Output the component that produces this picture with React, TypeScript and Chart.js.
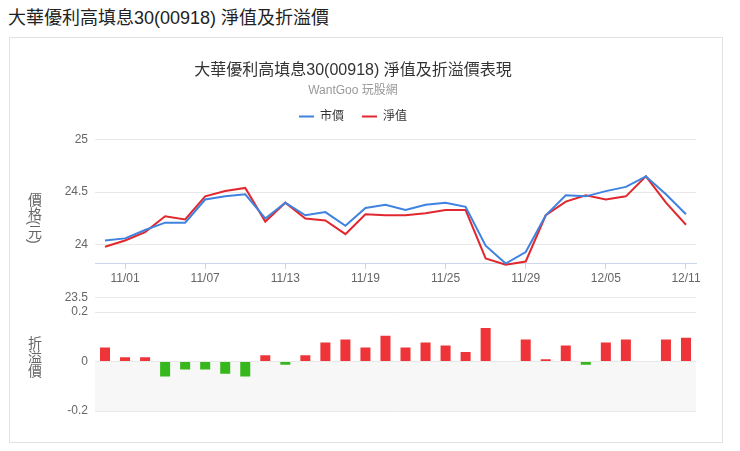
import { useEffect, useRef } from 'react';
import { Chart, registerables } from 'chart.js';

Chart.register(...registerables);

const FONT = "'Liberation Sans', 'Noto Sans CJK TC', sans-serif";

// trading days, 10/31 - 12/11
const dates = [
  '10/31', '11/01', '11/04', '11/05', '11/06', '11/07', '11/08', '11/11', '11/12', '11/13',
  '11/14', '11/15', '11/18', '11/19', '11/20', '11/21', '11/22', '11/25', '11/26', '11/27',
  '11/28', '11/29', '12/02', '12/03', '12/04', '12/05', '12/06', '12/09', '12/10', '12/11',
];

// 市價
const marketPrice = [
  24.04, 24.06, 24.14, 24.21, 24.21, 24.43, 24.46, 24.48, 24.25, 24.4,
  24.28, 24.31, 24.18, 24.35, 24.38, 24.33, 24.38, 24.4, 24.36, 23.99,
  23.82, 23.93, 24.28, 24.47, 24.46, 24.51, 24.55, 24.65, 24.48, 24.29,
];

// 淨值
const navPrice = [
  23.98, 24.04, 24.12, 24.27, 24.24, 24.46, 24.51, 24.54, 24.22, 24.4,
  24.25, 24.23, 24.1, 24.29, 24.28, 24.28, 24.3, 24.33, 24.33, 23.87,
  23.81, 23.84, 24.28, 24.41, 24.47, 24.43, 24.46, 24.65, 24.4, 24.19,
];

// 折溢價
const premium = [
  0.057, 0.017, 0.017, -0.06, -0.032, -0.032, -0.049, -0.06, 0.025, -0.013,
  0.025, 0.077, 0.089, 0.057, 0.104, 0.057, 0.077, 0.065, 0.039, 0.136,
  0, 0.089, 0.009, 0.065, -0.013, 0.077, 0.089, 0, 0.089, 0.096,
];

const xTickLabels = ['11/01', '11/07', '11/13', '11/19', '11/25', '11/29', '12/05', '12/11'];
const priceTicks = [23.5, 24, 24.5, 25];
const premiumTicks = [-0.2, 0, 0.2];

const BLUE = '#3f82e0';
const RED = '#e0282e';
const BAR_RED = '#ee3438';
const BAR_GREEN = '#36b81c';
const GRID = '#e8e8e8';

// light band below zero on the premium axis
const bandPlugin = {
  id: 'negativeBand',
  beforeDraw(chart: any) {
    const { ctx, chartArea, scales } = chart;
    const s = scales.y2;
    const top = s.getPixelForValue(0);
    const bottom = s.getPixelForValue(premiumTicks[0]);
    ctx.save();
    ctx.fillStyle = '#f7f7f7';
    ctx.fillRect(chartArea.left, top, chartArea.right - chartArea.left, bottom - top);
    ctx.restore();
  },
};

// a bit of room under the legend
const legendGap = {
  id: 'legendGap',
  beforeInit(chart: any) {
    const legend = chart.legend;
    if (!legend) return;
    const fit = legend.fit;
    legend.fit = function () {
      fit.call(this);
      this.height += 7;
    };
  },
};

const axisTitle = (top: number): any => ({
  position: 'absolute',
  left: 17,
  top,
  transform: 'translateY(-50%)',
  writingMode: 'vertical-rl',
  fontSize: 14,
  lineHeight: '14px',
  color: '#666',
});

export default function App() {
  const canvasRef = useRef<HTMLCanvasElement | null>(null);

  useEffect(() => {
    if (!canvasRef.current) return;

    const tickFont = { family: FONT, size: 12 };
    const plainNumber = (v: any) => String(Math.round(Number(v) * 100) / 100);

    const chart = new Chart(canvasRef.current, {
      type: 'bar',
      data: {
        labels: dates,
        datasets: [
          {
            type: 'line',
            label: '市價',
            data: marketPrice,
            yAxisID: 'y',
            borderColor: BLUE,
            backgroundColor: BLUE,
            borderWidth: 2,
            pointRadius: 0,
            tension: 0,
          },
          {
            type: 'line',
            label: '淨值',
            data: navPrice,
            yAxisID: 'y',
            borderColor: RED,
            backgroundColor: RED,
            borderWidth: 2,
            pointRadius: 0,
            tension: 0,
          },
          {
            type: 'bar',
            label: '折溢價',
            data: premium,
            yAxisID: 'y2',
            backgroundColor: premium.map((v) => (v < 0 ? BAR_GREEN : BAR_RED)),
            borderWidth: 0,
            categoryPercentage: 1,
            barPercentage: 0.5,
          },
        ],
      } as any,
      options: {
        animation: false,
        responsive: true,
        maintainAspectRatio: false,
        layout: { padding: { left: 0, right: 26, top: 0, bottom: 31 } },
        plugins: {
          title: {
            display: true,
            text: '大華優利高填息30(00918) 淨值及折溢價表現',
            color: '#333',
            font: { family: FONT, size: 16, weight: 'normal' },
            padding: { top: 23, bottom: 0 },
          },
          subtitle: {
            display: true,
            text: 'WantGoo 玩股網',
            color: '#999',
            font: { family: FONT, size: 12 },
            padding: { top: 3, bottom: -5 },
          },
          legend: {
            labels: {
              usePointStyle: true,
              pointStyle: 'line',
              pointStyleWidth: 15,
              boxHeight: 12,
              padding: 18,
              color: '#333',
              font: { family: FONT, size: 12 },
              filter: (item: any) => item.datasetIndex < 2,
            },
          },
          tooltip: { enabled: false },
        },
        scales: {
          x: {
            type: 'category',
            offset: true,
            position: { y: 23.82 },
            grid: {
              offset: false,
              drawOnChartArea: false,
              drawTicks: true,
              tickLength: 5,
              color: '#ccd6eb',
            },
            border: { display: true, color: '#ccd6eb' },
            ticks: {
              autoSkip: false,
              maxRotation: 0,
              padding: 3,
              color: '#666',
              font: tickFont,
            },
            afterBuildTicks: (s: any) => {
              s.ticks = s.ticks.filter((t: any) => xTickLabels.includes(dates[t.value]));
            },
          },
          y: {
            type: 'linear',
            position: 'left',
            stack: 'v',
            stackWeight: 158,
            weight: 1,
            min: priceTicks[0],
            max: priceTicks[priceTicks.length - 1],
            grid: { color: GRID, drawTicks: false },
            border: { display: false },
            ticks: { padding: 7, color: '#666', font: tickFont, callback: plainNumber },
            afterBuildTicks: (s: any) => {
              s.ticks = priceTicks.map((v) => ({ value: v }));
            },
            afterFit: (s: any) => {
              s.width = 85;
            },
          },
          y2: {
            type: 'linear',
            position: 'left',
            stack: 'v',
            stackWeight: 114,
            weight: 0,
            min: premiumTicks[0],
            max: 0.26,
            grid: { color: GRID, drawTicks: false },
            border: { display: false },
            ticks: { padding: 7, color: '#666', font: tickFont, callback: plainNumber },
            afterBuildTicks: (s: any) => {
              s.ticks = premiumTicks.map((v) => ({ value: v }));
            },
            afterFit: (s: any) => {
              s.width = 85;
            },
          },
        },
      } as any,
      plugins: [bandPlugin, legendGap],
    });

    return () => {
      chart.destroy();
    };
  }, []);

  return (
    <div style={{ fontFamily: FONT }}>
      <div style={{ fontSize: 18, lineHeight: '20px', height: 29, color: '#222' }}>
        大華優利高填息30(00918) 淨值及折溢價
      </div>
      <div
        style={{
          position: 'relative',
          marginLeft: 1,
          width: 714,
          height: 406,
          border: '1px solid #e2e2e2',
          boxSizing: 'border-box',
        }}
      >
        <div style={{ position: 'absolute', left: 0, top: 0, width: 712, height: 404 }}>
          <canvas ref={canvasRef} />
        </div>
        <div style={axisTitle(180)}>價格(元)</div>
        <div style={axisTitle(319)}>折溢價</div>
      </div>
    </div>
  );
}
